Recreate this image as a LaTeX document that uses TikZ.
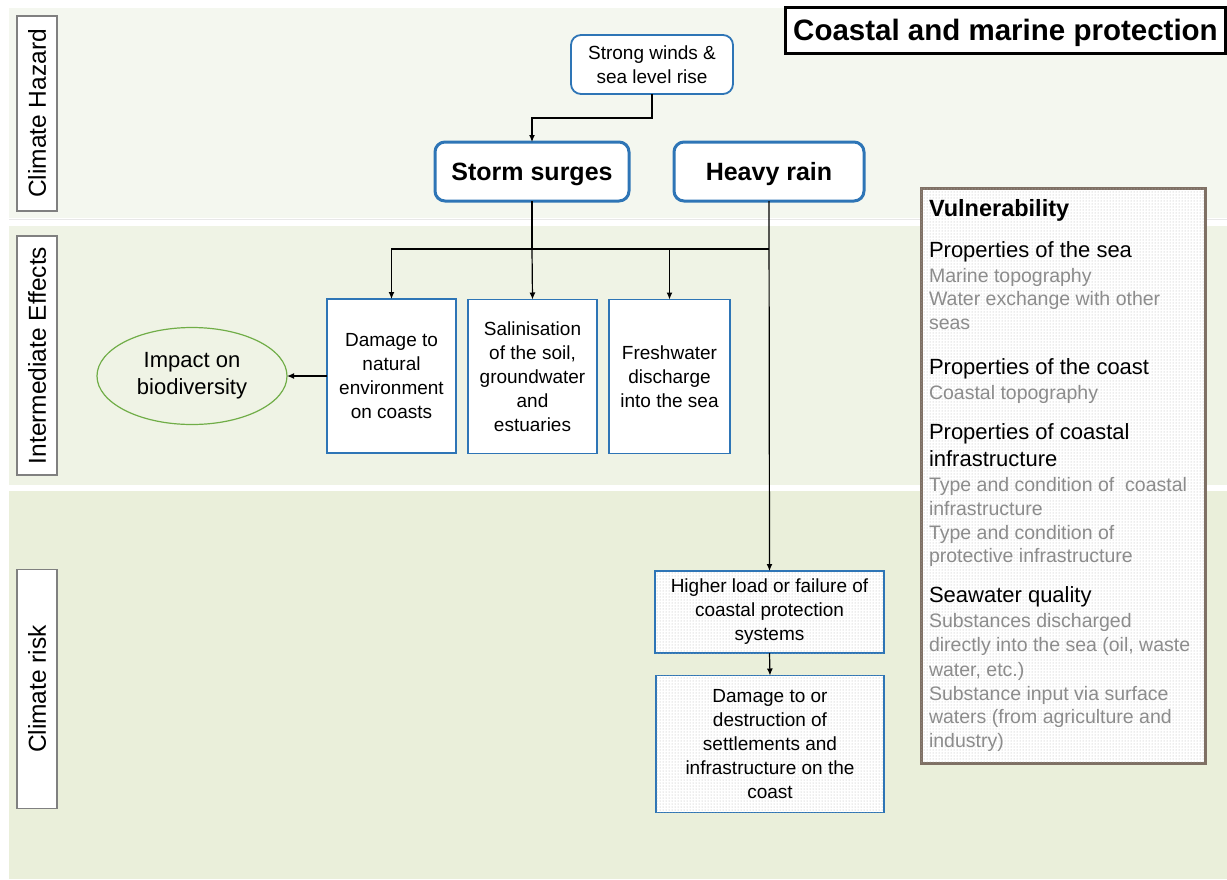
\documentclass[tikz,border=0pt]{standalone}
\usepackage{fontspec}
\setmainfont{Liberation Sans}
\usetikzlibrary{arrows.meta,shapes.geometric,patterns}

\definecolor{bandA}{HTML}{F4F7EF}
\definecolor{bandB}{HTML}{EFF3E5}
\definecolor{bandC}{HTML}{EAEFDA}
\definecolor{boxblue}{HTML}{2E75B6}
\definecolor{leafgreen}{HTML}{70AD47}
\definecolor{taupe}{HTML}{7F7064}
\definecolor{softgray}{HTML}{8C8C8C}
\definecolor{framegray}{HTML}{808080}
\definecolor{dotgray}{HTML}{B4B4B4}

\begin{document}
\begin{tikzpicture}[x=1pt,y=-1pt,
  every node/.style={inner sep=0pt, outer sep=0pt},
  bandlabel/.style={draw=framegray, line width=1.2pt, fill=white, rotate=90,
    minimum height=40pt, font=\fontsize{24.5}{28}\selectfont},
  hazard/.style={draw=boxblue, line width=3pt, fill=white, rounded corners=10pt,
    minimum height=59pt, text depth=0pt, font=\bfseries\fontsize{25}{28}\selectfont},
  source/.style={draw=boxblue, line width=1.8pt, fill=white, rounded corners=10pt,
    align=center, font=\fontsize{19}{24}\selectfont},
  effect/.style={draw=boxblue, line width=1.8pt, fill=white, minimum height=154pt,
    align=center, font=\fontsize{19}{24}\selectfont},
  riskbox/.style={draw=boxblue, line width=1.5pt, align=center,
    postaction={pattern=dots, pattern color=dotgray},
    fill=white, font=\fontsize{19}{24}\selectfont},
  impact/.style={draw=leafgreen, line width=1.2pt, ellipse, minimum width=190pt,
    minimum height=97pt, align=center, font=\fontsize{22}{27}\selectfont},
  arr/.style={line width=1.2pt, -{Latex[length=7pt,width=6pt]}},
  link/.style={line width=1.2pt},
  vhead/.style={anchor=base west, font=\bfseries\fontsize{23.5}{28}\selectfont},
  vgroup/.style={anchor=base west, font=\fontsize{22}{26}\selectfont},
  vitem/.style={anchor=base west, text=softgray, font=\fontsize{19.5}{24}\selectfont}
]
\useasboundingbox (0,0) rectangle (1227,879);
\fill[white] (0,0) rectangle (1227,879);

% horizontal bands
\fill[bandA] (9,8) rectangle (1227,218);
\draw[gray!18, line width=1pt] (9,219) -- (1227,219);
\fill[bandB] (9,226) rectangle (1227,485);
\fill[bandC] (9,491) rectangle (1227,879);

% band labels
\node[bandlabel, minimum width=195pt] (lhaz) at (37,113.5) {Climate Hazard};
\node[bandlabel, minimum width=239pt] (leff) at (37,355.5) {Intermediate Effects};
\node[bandlabel, minimum width=239pt] (lrisk) at (37,689) {Climate risk};

% title
\node[draw=black, line width=3pt, fill=white, minimum width=440pt, minimum height=46pt,
      text depth=0pt, font=\bfseries\fontsize{29.5}{34}\selectfont] (title) at (1005.5,30)
      {Coastal and marine protection};

% hazards
\node[source, minimum width=162pt, minimum height=59pt] (sw) at (652,64.5)
  {Strong winds \&\\sea level rise};
\node[hazard, minimum width=194pt] (ss) at (532,171.5) {Storm surges};
\node[hazard, minimum width=190pt] (hr) at (769,171.5) {Heavy rain};

% intermediate effects
\node[effect, minimum width=129pt] (b1) at (391.5,376)
  {Damage to\\natural\\environment\\on coasts};
\node[effect, minimum width=129pt] (b2) at (532.5,376.5)
  {Salinisation\\of the soil,\\groundwater\\and\\estuaries};
\node[effect, minimum width=121pt] (b3) at (669.5,376.5)
  {Freshwater\\discharge\\into the sea};
\node[impact] (ell) at (192,376) {Impact on\\biodiversity};

% climate risks
\node[riskbox, minimum width=229pt, minimum height=82pt] (hl) at (769.5,612)
  {Higher load or failure of\\coastal protection\\systems};
\node[riskbox, minimum width=228pt, minimum height=137pt] (dd) at (770,744)
  {Damage to or\\destruction of\\settlements and\\infrastructure on the\\coast};

% vulnerability panel
\node[draw=taupe, line width=3pt, fill=white, minimum width=284pt, minimum height=575pt,
      postaction={pattern=dots, pattern color=dotgray}] (vul) at (1063,475.5) {};
\foreach \yy/\st/\tx in {
  216.7/vhead/{Vulnerability},
  257.7/vgroup/{Properties of the sea},
  282.3/vitem/{Marine topography},
  305.5/vitem/{Water exchange with other},
  329.3/vitem/{seas},
  374.3/vgroup/{Properties of the coast},
  399/vitem/{Coastal topography},
  439.3/vgroup/{Properties of coastal},
  466/vgroup/{infrastructure},
  491.7/vitem/{Type and condition of \ coastal},
  515/vitem/{infrastructure},
  539.3/vitem/{Type and condition of},
  562.7/vitem/{protective infrastructure},
  602.7/vgroup/{Seawater quality},
  627.7/vitem/{Substances discharged},
  651.7/vitem/{directly into the sea (oil, waste},
  676/vitem/{water, etc.)},
  700/vitem/{Substance input via surface},
  723.3/vitem/{waters (from agriculture and},
  747.3/vitem/{industry)}}
  \node[\st] at (929,\yy) {\tx};

% connectors
\coordinate (jn) at (532,249);
\draw[arr] (sw.south) -- ++(0,24) -| (ss.north);
\draw[link] (ss.south) -- (jn);
\draw[arr] (hr.south |- jn) -| (b1.north);
\draw[arr] (jn) -- (b2.north);
\draw[arr] (hr.south |- jn) -| (b3.north);
\draw[arr] (hr.south) -- (hl.north);
\draw[arr] (hl.south) -- (dd.north);
\draw[arr] (b1.west) -- (ell.east);
\end{tikzpicture}
\end{document}
